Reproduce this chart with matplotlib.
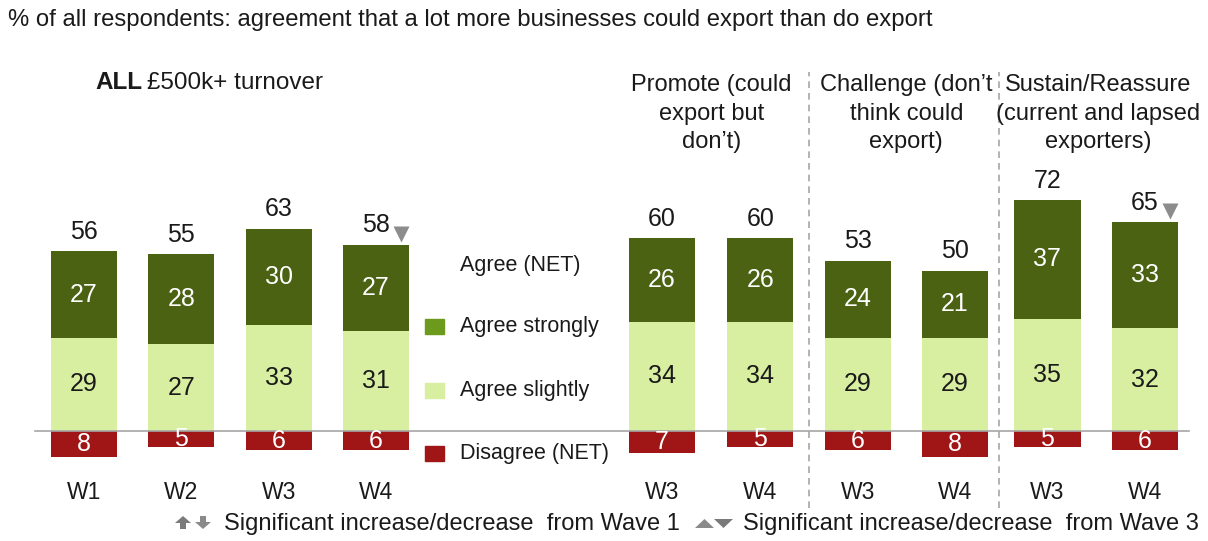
import matplotlib
matplotlib.use("Agg")
import matplotlib.pyplot as plt
from matplotlib.patches import Rectangle, Polygon

plt.rcParams['font.family'] = ['Liberation Sans', 'DejaVu Sans']

# Data
waves = ["W1", "W2", "W3", "W4", "W3", "W4", "W3", "W4", "W3", "W4"]
agree_strongly = [27, 28, 30, 27, 26, 26, 24, 21, 37, 33]
agree_slightly = [29, 27, 33, 31, 34, 34, 29, 29, 35, 32]
agree_net = [56, 55, 63, 58, 60, 60, 53, 50, 72, 65]
disagree_net = [8, 5, 6, 6, 7, 5, 6, 8, 5, 6]
sig_down_w3 = [False, False, False, True, False, False, False, False, False, True]
group_titles = ["Promote (could\nexport but\ndon\u2019t)",
                "Challenge (don\u2019t\nthink could\nexport)",
                "Sustain/Reassure\n(current and lapsed\nexporters)"]
legend_labels = ["Agree strongly", "Agree slightly", "Disagree (NET)"]

positions = [0, 1, 2, 3, 5.94, 6.95, 7.95, 8.95, 9.9, 10.9]

C_STRONG = "#4a6212"
C_SLIGHT = "#d8eea0"
C_DIS = "#a01515"
C_LEG_STRONG = "#6b9a1c"
C_GREY = "#8c8c8c"
C_TEXT = "#1a1a1a"

W, H = 1208, 541
fig = plt.figure(figsize=(W / 100, H / 100), dpi=100)
ax = fig.add_axes([0, 0, 1, 1])
ax.set_xlim(-0.863, 11.55)
ax.set_ylim(-34.3, 134.3)
ax.axis("off")

bw = 0.68
ax.bar(positions, agree_slightly, width=bw, color=C_SLIGHT, zorder=2)
ax.bar(positions, agree_strongly, width=bw, bottom=agree_slightly, color=C_STRONG, zorder=2)
ax.bar(positions, [-d for d in disagree_net], width=bw, color=C_DIS, zorder=2)

# baseline
ax.plot([-0.5, 11.35], [0, 0], color="#a6a6a6", lw=1.2, zorder=3)

NUM = 18
for x, s, sl, net, d, sig in zip(positions, agree_strongly, agree_slightly,
                                  agree_net, disagree_net, sig_down_w3):
    ax.text(x, sl / 2, str(sl), ha="center", va="center", fontsize=NUM, color=C_TEXT, zorder=4)
    ax.text(x, sl + s / 2, str(s), ha="center", va="center", fontsize=NUM, color="white", zorder=4)
    ax.text(x, -d / 2, str(d), ha="center", va="center", fontsize=NUM, color="white", zorder=4)
    ax.text(x, sl + s + 2.3, str(net), ha="center", va="bottom", fontsize=NUM, color=C_TEXT)
    if sig:
        ax.plot(x + 0.26, sl + s + 3.4, marker="v", ms=12, color=C_GREY, mec="none")

for x, w in zip(positions, waves):
    ax.text(x, -19.3, w, ha="center", va="center", fontsize=16.5, color=C_TEXT)

# legend block
leg_x = 3.5
for y, c, lab in zip([32.5, 12.5, -7.0], [C_LEG_STRONG, C_SLIGHT, C_DIS], legend_labels):
    ax.add_patch(Rectangle((leg_x, y - 2.3), 0.2, 4.6, color=c, zorder=2))
    ax.text(leg_x + 0.36, y, lab, ha="left", va="center", fontsize=15.5, color=C_TEXT)
ax.text(leg_x + 0.36, 51.5, "Agree (NET)", ha="left", va="center", fontsize=15.5, color=C_TEXT)

# group headings and separators
for xc, t in zip([6.45, 8.45, 10.42], group_titles):
    ax.text(xc, 111.2, t, ha="center", va="top", fontsize=17, color=C_TEXT,
            linespacing=1.38)
for xs in [7.45, 9.4]:
    ax.plot([xs, xs], [-24, 112], color="#a6a6a6", lw=1.2, ls=(0, (4, 3)))

# headings
fig.text(8 / W, 1 - 20 / H, "% of all respondents: agreement that a lot more businesses could export than do export",
         ha="left", va="center", fontsize=17.2, color=C_TEXT)
fig.text(95 / W, 1 - 83 / H, "ALL", ha="left", va="center", fontsize=17.5,
         fontweight="bold", color=C_TEXT)
fig.text(147 / W, 1 - 83 / H, "\u00a3500k+ turnover", ha="left", va="center", fontsize=17.5, color=C_TEXT)

# footnote key: symbols drawn in a pixel-space overlay
key = fig.add_axes([0, 0, 1, 1], facecolor="none")
key.set_xlim(0, W)
key.set_ylim(H, 0)
key.axis("off")


def block_arrow(x0, top, bottom, up, color):
    w, sw, hh = 16, 6, 7
    xm = x0 + w / 2
    if up:
        pts = [(xm, top), (x0 + w, top + hh), (xm + sw / 2, top + hh), (xm + sw / 2, bottom),
               (xm - sw / 2, bottom), (xm - sw / 2, top + hh), (x0, top + hh)]
    else:
        pts = [(xm, bottom), (x0 + w, bottom - hh), (xm + sw / 2, bottom - hh), (xm + sw / 2, top),
               (xm - sw / 2, top), (xm - sw / 2, bottom - hh), (x0, bottom - hh)]
    key.add_patch(Polygon(pts, closed=True, color=color, lw=0))


block_arrow(175, 516, 529, True, "#7a7a7a")
block_arrow(195, 516, 529, False, "#8a8a8a")
key.add_patch(Polygon([(695, 528), (714, 528), (704.5, 519)], closed=True, color="#8a8a8a", lw=0))
key.add_patch(Polygon([(714, 519), (733, 519), (723.5, 528)], closed=True, color="#7a7a7a", lw=0))

fig.text(224 / W, 1 - 524 / H, "Significant increase/decrease  from Wave 1", ha="left", va="center",
         fontsize=17, color=C_TEXT)
fig.text(743 / W, 1 - 524 / H, "Significant increase/decrease  from Wave 3", ha="left", va="center",
         fontsize=17, color=C_TEXT)

fig.savefig("out.png", dpi=100)
